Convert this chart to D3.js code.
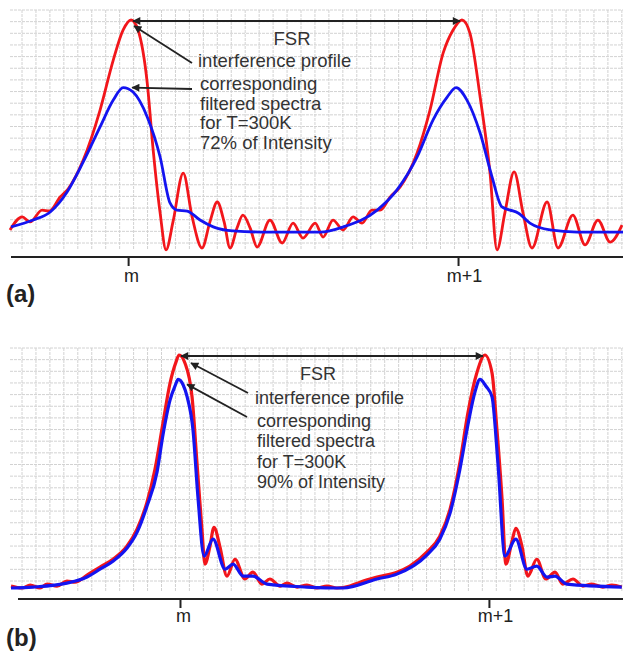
<!DOCTYPE html>
<html>
<head>
<meta charset="utf-8">
<script src="https://cdn.jsdelivr.net/npm/d3@7/dist/d3.min.js"></script>
<style>
  body { margin: 0; background: #fff; }
  svg { display: block; font-family: Arial, "Liberation Sans", sans-serif; }
</style>
</head>
<body>
<svg id="chart" width="623" height="652"></svg>
<script>
// x = position in % of the free spectral range (order m at 0, m+1 at 100)
// y = intensity in % of the interference peak
const tickValues = [0, 100];
const tickLabels = ["m", "m+1"];

// (a) interference profile
const redA = [
  [-35.8, 11.4], [-32.1, 16.9], [-29.7, 14.8], [-26.1, 19.8], [-23.9, 19.4], [-20.6, 25.3],
  [-18.2, 28.7], [-13.6, 40.9], [-8.5, 62.0], [-4.5, 83.1], [-1.5, 95.8], [0.9, 100],
  [3.0, 95.8], [5.8, 73.4], [7.6, 45.1], [9.7, 18.6], [11.5, 3.0], [13.6, 14.8],
  [16.7, 35.4], [19.4, 16.9], [22.4, 3.8], [24.8, 14.8], [27.0, 23.2], [29.1, 14.8],
  [30.9, 3.8], [33.0, 12.2], [34.8, 17.7], [37.0, 12.2], [39.1, 4.2], [43.0, 15.6],
  [46.7, 5.9], [50.0, 14.3], [53.0, 8.0], [56.7, 14.3], [59.1, 8.4], [62.1, 15.6],
  [65.2, 11.4], [68.2, 16.9], [70.9, 14.3], [73.9, 19.8], [76.4, 19.8], [79.4, 25.3],
  [82.4, 29.5], [87.6, 43.9], [91.5, 62.0], [95.5, 86.1], [98.5, 95.8], [101.2, 100],
  [103.6, 94.5], [106.7, 67.5], [109.7, 35.4], [111.8, 3.0], [114.2, 18.6], [117.0, 35.9],
  [119.7, 18.6], [122.4, 3.8], [127.0, 23.2], [130.3, 3.8], [134.8, 17.7], [138.5, 5.1],
  [142.4, 15.6], [146.1, 6.3], [149.7, 13.5]
];
// (a) filtered spectra, T=300K, 72%
const blueA = [
  [-35.5, 12.7], [-28.8, 15.6], [-23.6, 19.0], [-18.5, 27.4], [-13.6, 40.1], [-8.5, 54.9],
  [-4.5, 66.2], [-1.5, 71.5], [1.5, 69.6], [5.8, 59.1], [9.7, 42.2], [12.7, 22.8],
  [14.8, 19.8], [17.9, 19.4], [21.8, 15.6], [25.8, 12.7], [31.8, 11.0], [42.1, 10.5],
  [58.2, 10.5], [65.2, 12.7], [75.5, 19.8], [81.5, 28.3], [87.6, 42.2], [92.4, 57.8],
  [96.7, 67.5], [99.4, 71.5], [102.7, 66.2], [106.7, 52.3], [110.3, 33.8], [113.3, 21.1],
  [115.8, 19.8], [118.2, 18.6], [121.8, 14.3], [127.9, 11.4], [136.1, 10.5], [150, 10.5]
];

// (b) interference profile
const redB = [
  [-54.7, 5.3], [-51.1, 4.5], [-48.5, 5.7], [-45.3, 4.5], [-43.0, 6.1], [-39.8, 5.3],
  [-36.6, 7.3], [-34.0, 6.9], [-30.1, 9.8], [-25.9, 13.1], [-21.7, 16.3], [-17.2, 21.6],
  [-13.9, 28.6], [-10.7, 39.6], [-8.1, 53.1], [-5.5, 72.2], [-3.2, 88.6], [-1.3, 97.1],
  [-0.3, 100], [1.6, 96.7], [3.9, 82.9], [5.5, 55.9], [7.1, 28.6], [8.1, 14.3],
  [9.7, 21.6], [11.0, 29.4], [12.9, 21.6], [15.2, 9.4], [17.8, 16.3], [21.0, 8.2],
  [23.6, 11.0], [26.5, 6.1], [29.1, 8.2], [32.4, 5.3], [34.6, 6.5], [37.9, 4.9],
  [41.1, 5.7], [44.3, 4.5], [47.6, 5.3], [50.8, 4.5], [55.0, 5.3], [58.3, 6.9],
  [63.8, 9.0], [70.2, 11.0], [74.4, 13.5], [79.9, 19.2], [84.1, 25.7], [87.4, 36.7],
  [90.6, 55.9], [93.2, 76.3], [96.1, 92.7], [98.7, 100], [101.0, 92.7], [102.6, 69.4],
  [104.2, 42.0], [105.5, 14.3], [107.4, 23.3], [108.7, 29.0], [110.7, 21.6], [112.6, 9.4],
  [115.5, 16.3], [118.4, 8.2], [121.4, 11.0], [123.9, 6.1], [127.2, 8.2], [130.4, 5.3],
  [133.3, 6.1], [136.9, 4.9], [139.8, 5.7], [143.0, 4.9]
];
// (b) filtered spectra, T=300K, 90%
const blueB = [
  [-54.7, 4.5], [-47.6, 4.9], [-36.6, 6.5], [-30.1, 9.0], [-25.9, 12.2], [-21.7, 15.5],
  [-17.2, 20.8], [-13.9, 27.3], [-10.7, 38.0], [-7.4, 52.2], [-5.5, 67.3], [-3.2, 81.6],
  [-1.6, 87.3], [-0.6, 90], [1.0, 87.8], [2.3, 82.9], [4.2, 69.4], [5.8, 42.0],
  [7.8, 17.6], [10.7, 24.5], [14.6, 12.2], [17.2, 14.3], [20.4, 9.4], [23.6, 9.4],
  [28.2, 6.1], [41.1, 4.9], [52.8, 4.5], [63.8, 8.2], [70.2, 10.2], [79.9, 18.0],
  [84.1, 24.5], [87.4, 35.1], [90.6, 53.1], [93.2, 71.4], [95.5, 84.9], [97.1, 90],
  [99.0, 87.3], [101.0, 82.9], [102.9, 55.9], [105.2, 17.6], [108.7, 24.5], [112.3, 12.2],
  [115.5, 13.5], [118.8, 9.0], [121.4, 9.4], [125.2, 6.1], [143.0, 4.9]
];

const notesA = ["corresponding", "filtered spectra", "for T=300K", "72% of Intensity"];
const notesB = ["corresponding", "filtered spectra", "for T=300K", "90% of Intensity"];

const svg = d3.select("#chart");

// ARROW MARKER
svg.append("defs").append("marker")
  .attr("id", "head")
  .attr("viewBox", "0 0 10 10")
  .attr("refX", 9)
  .attr("refY", 5)
  .attr("markerWidth", 11)
  .attr("markerHeight", 8)
  .attr("markerUnits", "userSpaceOnUse")
  .attr("orient", "auto-start-reverse")
  .append("path")
  .attr("d", "M0,0 L10,5 L0,10 Z")
  .attr("fill", "#222");

function drawPanel(p) {
  const x = d3.scaleLinear().domain(p.xDomain).range([p.left, 623]);
  const y = d3.scaleLinear().domain([0, 100]).range([p.axisY, p.peakY]);
  const g = svg.append("g");

  //GRID
  const grid = g.append("g").attr("stroke", "#d2d2d2").attr("stroke-width", 1)
    .attr("stroke-dasharray", "3,1");
  for (let gx = 8 + 14; gx < 623; gx += 13.95) {
    grid.append("line").attr("x1", gx).attr("x2", gx).attr("y1", p.gridTop).attr("y2", p.gridBottom);
  }
  for (let gy = p.gridTop; gy <= p.gridBottom; gy += 11.65) {
    grid.append("line").attr("x1", 10).attr("x2", 623).attr("y1", gy).attr("y2", gy);
  }

  //AXIS
  const axis = d3.axisBottom(x)
    .tickValues(tickValues)
    .tickFormat((d, i) => tickLabels[i])
    .tickSize(9)
    .tickSizeOuter(0)
    .tickPadding(p.pad);
  const ax = g.append("g")
    .attr("transform", "translate(0," + p.axisY + ")")
    .call(axis);
  ax.select(".domain").attr("stroke", "#222").attr("stroke-width", 2.2)
    .attr("d", "M" + p.axisLeft + ",0H623");
  ax.selectAll(".tick line").attr("stroke", "#222").attr("stroke-width", 2);
  ax.selectAll(".tick text")
    .attr("fill", "#222")
    .attr("dx", (d, i) => (i === 0 ? 3 : 6))
    .style("font-size", "18px")
    .style("font-family", "Arial, 'Liberation Sans', sans-serif");

  //CURVES
  const line = d3.line()
    .x(d => x(d[0]))
    .y(d => y(d[1]))
    .curve(d3.curveMonotoneX);
  g.append("path").datum(p.red)
    .attr("fill", "none").attr("stroke", "#f2161b").attr("stroke-width", p.lw)
    .attr("stroke-linejoin", "round").attr("d", line);
  g.append("path").datum(p.blue)
    .attr("fill", "none").attr("stroke", "#1414f0").attr("stroke-width", p.lw)
    .attr("stroke-linejoin", "round").attr("d", line);

  //FSR ARROW BETWEEN THE TWO RED PEAKS
  const peaks = [d3.greatest(p.red.filter(d => d[0] < 50), d => d[1]),
                 d3.greatest(p.red.filter(d => d[0] >= 50), d => d[1])];
  g.append("line")
    .attr("x1", x(peaks[0][0]) + 2).attr("x2", x(peaks[1][0]) - 2)
    .attr("y1", y(100) + 1).attr("y2", y(100) + 1)
    .attr("stroke", "#222").attr("stroke-width", 1.8)
    .attr("marker-start", "url(#head)").attr("marker-end", "url(#head)");

  //POINTER ARROWS
  const bluePeak = d3.greatest(p.blue.filter(d => d[0] < 50), d => d[1]);
  p.pointers.forEach((a, i) => {
    const tip = i === 0 ? [x(peaks[0][0]) + a.tip[0], y(100) + a.tip[1]]
                        : [x(bluePeak[0]) + a.tip[0], y(bluePeak[1]) + a.tip[1]];
    g.append("line")
      .attr("x1", a.tail[0]).attr("y1", a.tail[1])
      .attr("x2", tip[0]).attr("y2", tip[1])
      .attr("stroke", "#222").attr("stroke-width", 1.8)
      .attr("marker-end", "url(#head)");
  });

  //LABELS
  const txt = g.append("g").attr("fill", "#333").style("font-size", p.fs + "px");
  txt.append("text").attr("x", p.fsr[0]).attr("y", p.fsr[1])
    .attr("text-anchor", "middle").text("FSR");
  txt.append("text").attr("x", p.ip[0]).attr("y", p.ip[1]).text("interference profile");
  p.notes.forEach((t, i) => {
    txt.append("text").attr("x", p.note[0]).attr("y", p.note[1] + i * p.step).text(t);
  });
  g.append("text").attr("x", 6).attr("y", p.tagY)
    .attr("fill", "#222").style("font-size", "24px").style("font-weight", "bold")
    .text(p.tag);
}

drawPanel({
  red: redA, blue: blueA, notes: notesA, tag: "(a)", fs: 18.5, pad: 3,
  xDomain: [-35.8, 150], left: 10, axisLeft: 11, axisY: 257, peakY: 20,
  gridTop: 10, gridBottom: 249, lw: 2.8,
  pointers: [{ tail: [192, 63], tip: [3, 6] }, { tail: [192, 89], tip: [9, 0] }],
  fsr: [292, 45], ip: [198, 67], note: [200, 90], step: 19.7, tagY: 302
});

drawPanel({
  red: redB, blue: blueB, notes: notesB, tag: "(b)", fs: 18, pad: 1,
  xDomain: [-54.7, 143.4], left: 11, axisLeft: 18, axisY: 599, peakY: 355,
  gridTop: 348, gridBottom: 592, lw: 3.2,
  pointers: [{ tail: [248, 393], tip: [12, 8] }, { tail: [247, 417], tip: [9, 5] }],
  fsr: [318, 380], ip: [255, 404], note: [257, 427], step: 20.3, tagY: 646
});
</script>
</body>
</html>
